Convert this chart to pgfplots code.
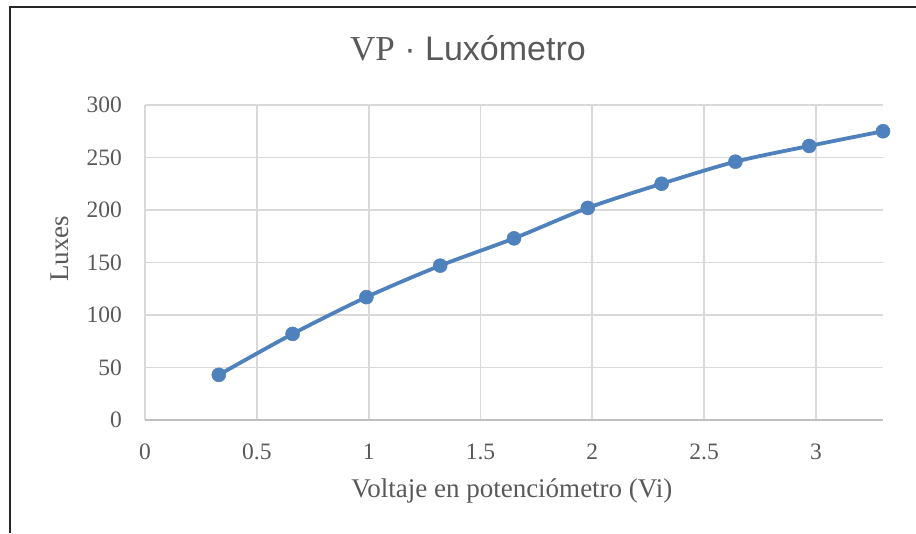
\documentclass[border=0pt]{standalone}
\usepackage{fontspec}
\setmainfont{Liberation Serif}
\newfontfamily\sansf{Liberation Sans}
\usepackage{pgfplots}
\pgfplotsset{compat=1.18}
\definecolor{txt}{HTML}{595959}
\definecolor{grd}{HTML}{D9D9D9}
\definecolor{axl}{HTML}{BFBFBF}
\definecolor{ser}{HTML}{4F81BD}
\begin{document}
\begin{tikzpicture}[x=1pt,y=1pt]
\path[use as bounding box] (0,0) rectangle (916,533);
\draw[line width=2pt,black!85] (10,0) -- (10,526) -- (916,526);
\node[text=txt, inner sep=0pt, anchor=base] at (468,472) {{\fontsize{35}{37}\selectfont VP}{\sansf\fontsize{34}{36}\selectfont{} · Luxómetro}};
\begin{axis}[at={(145pt,113pt)}, anchor=south west, scale only axis,
  width=738pt, height=315pt,
  xmin=0, xmax=3.3, ymin=0, ymax=300,
  xtick={0,0.5,1,1.5,2,2.5,3}, ytick={0,50,100,150,200,250,300},
  grid=major, grid style={grd, line width=1.8pt},
  axis x line*=bottom, axis y line*=left,
  x axis line style={axl, line width=1.8pt, -},
  y axis line style={draw=none},
  major tick length=0pt,
  /pgf/number format/assume math mode=true,
  /pgf/number format/fixed,
  tick label style={font=\fontsize{23.5}{26}\selectfont, text=txt, inner sep=0pt},
  xticklabel style={anchor=center, yshift=-32pt},
  yticklabel style={anchor=east, xshift=-23pt},
  xlabel={Voltaje en potenciómetro (Vi)},
  ylabel={Luxes},
  label style={font=\fontsize{27}{30}\selectfont, text=txt, inner sep=0pt},
  xlabel style={at={(axis description cs:0.497,-0.225)}, anchor=center},
  ylabel style={at={(axis description cs:-0.115,0.543)}, anchor=center},
  clip=false,
]
\addplot[ser, line width=3.8pt, smooth, mark=*, mark size=7pt, mark options={fill=ser, draw=ser, line width=0.5pt}]
coordinates {(0.33,43) (0.66,82) (0.99,117) (1.32,147) (1.65,173) (1.98,202) (2.31,225) (2.64,246) (2.97,261) (3.30,275)};
\end{axis}
\end{tikzpicture}
\end{document}
